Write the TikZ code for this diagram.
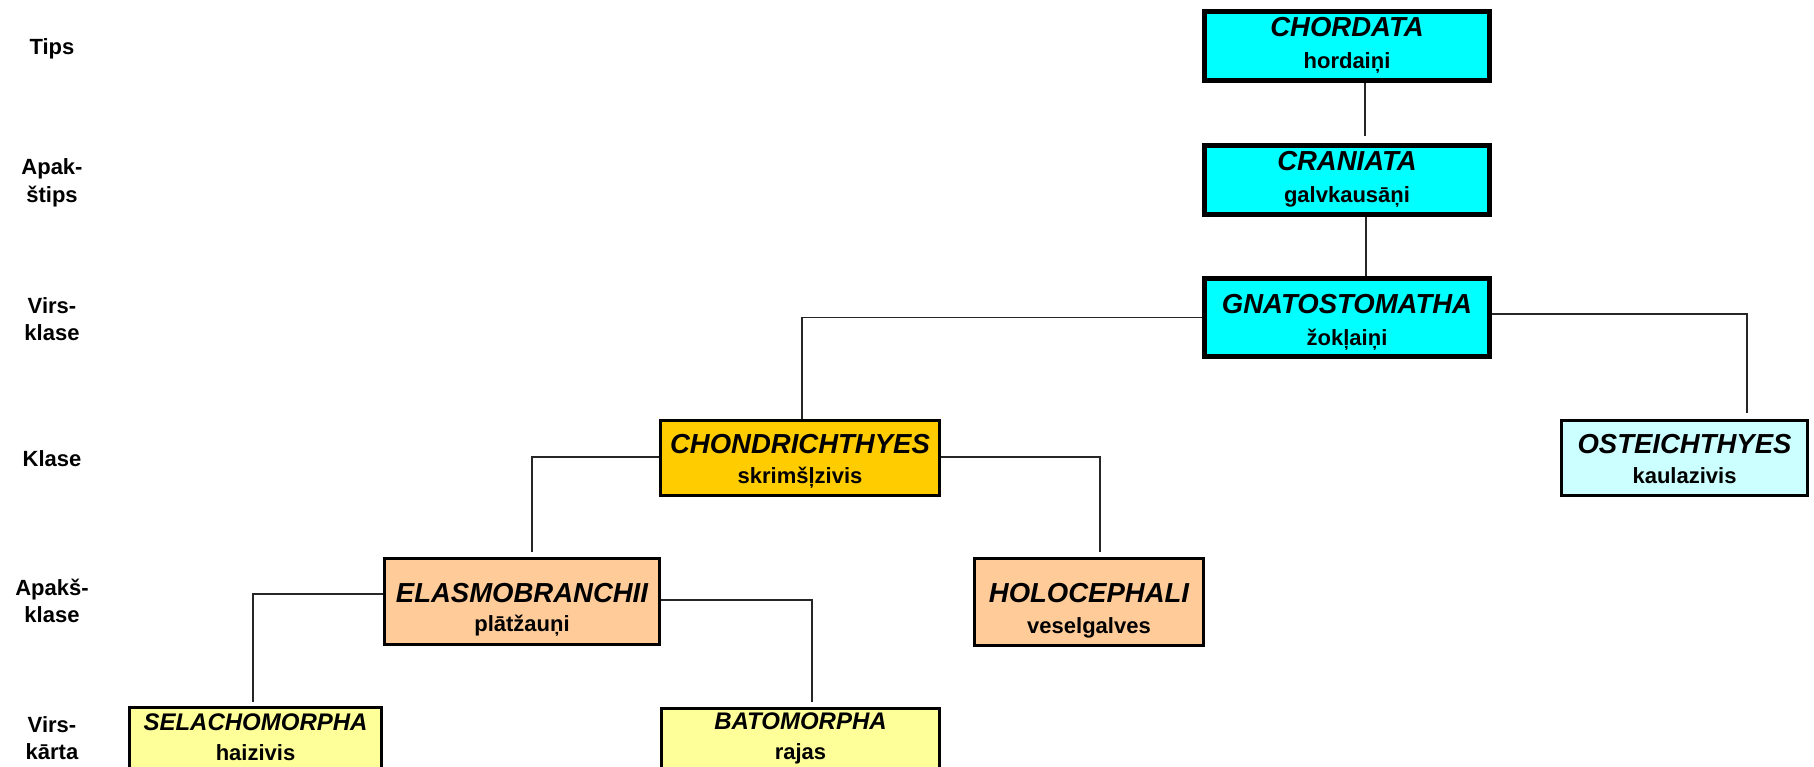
\documentclass[tikz,border=0pt]{standalone}
\usepackage{fontspec}
\setmainfont{Liberation Sans}
\definecolor{boxcyan}{HTML}{00FFFF}
\definecolor{boxorange}{HTML}{FFCC00}
\definecolor{boxlightcyan}{HTML}{CCFFFF}
\definecolor{boxpeach}{HTML}{FFCC99}
\definecolor{boxyellow}{HTML}{FFFF99}
\newcommand{\titf}{\fontsize{27.5}{30}\selectfont\bfseries\itshape}
\newcommand{\btitf}{\fontsize{24}{28}\selectfont\bfseries\itshape}
\newcommand{\subf}{\fontsize{22}{26}\selectfont\bfseries}
\newcommand{\labf}{\fontsize{22}{27.5}\selectfont\bfseries}
\newcommand{\boxtext}[4][\titf]{\vtop{\baselineskip=#4pt\relax\halign{\hfil##\hfil\cr{#1#2}\cr{\subf#3}\cr}}}
\newcommand{\twol}[2]{\vtop{\baselineskip=27.5pt\relax\halign{\hfil##\hfil\cr#1\cr#2\cr}}}
\tikzset{
  thickbox/.style={draw=black, line width=5pt, inner sep=0pt, minimum width=285pt},
  thinbox/.style={draw=black, line width=3pt, inner sep=0pt},
  link/.style={draw=black!85, line width=1.8pt},
  rank/.style={anchor=base, inner sep=0pt, font=\labf},
}
\begin{document}
\begin{tikzpicture}[x=1pt,y=-1pt]
\useasboundingbox (0,0) rectangle (1814,767);
\fill[white] (0,0) rectangle (1814,767);
\clip (0,0) rectangle (1814,767);

% rank labels
\node[rank] (l1) at (52,55) {Tips};
\node[rank] (l2) at (52,175) {\twol{Apak-}{štips}};
\node[rank] (l3) at (52,313) {\twol{Virs-}{klase}};
\node[rank] (l4) at (52,466) {Klase};
\node[rank] (l5) at (52,595) {\twol{Apakš-}{klase}};
\node[rank] (l6) at (52,732) {\twol{Virs-}{kārta}};

% boxes
\node[thickbox, fill=boxcyan, minimum height=69pt, text height=0pt, text depth=18pt] (chordata) at (1347,46) {\boxtext{CHORDATA}{hordaiņi}{32}};
\node[thickbox, fill=boxcyan, minimum height=69pt, text height=0pt, text depth=18pt] (craniata) at (1347,180) {\boxtext{CRANIATA}{galvkausāņi}{32}};
\node[thickbox, fill=boxcyan, minimum height=78pt, text height=0pt, text depth=9pt] (gnat) at (1347,317.5) {\boxtext{GNATOSTOMATHA}{žokļaiņi}{32}};
\node[thinbox, fill=boxorange, minimum width=279pt, minimum height=75pt, text height=0pt, text depth=10pt] (chondr) at (800,458) {\boxtext{CHONDRICHTHYES}{skrimšļzivis}{30}};
\node[thinbox, fill=boxlightcyan, minimum width=246pt, minimum height=75pt, text height=0pt, text depth=10pt] (ostei) at (1684.5,458) {\boxtext{OSTEICHTHYES}{kaulazivis}{30}};
\node[thinbox, fill=boxpeach, minimum width=275pt, minimum height=86pt, text height=1pt, text depth=0pt] (elasmo) at (522,601.5) {\boxtext{ELASMOBRANCHII}{plātžauņi}{29}};
\node[thinbox, fill=boxpeach, minimum width=229pt, minimum height=87pt, text height=0pt, text depth=0pt] (holo) at (1089,602) {\boxtext{HOLOCEPHALI}{veselgalves}{31}};
\node[thinbox, fill=boxyellow, minimum width=252pt, minimum height=100pt, text height=0pt, text depth=55pt] (selacho) at (255.5,757.5) {\boxtext[\btitf]{SELACHOMORPHA}{haizivis}{30}};
\node[thinbox, fill=boxyellow, minimum width=278pt, minimum height=100pt, text height=0pt, text depth=59pt] (bato) at (800.5,758.5) {\boxtext[\btitf]{BATOMORPHA}{rajas}{30}};

% connectors
\draw[link] ([xshift=18pt]chordata.south) -- ([xshift=18pt,yshift=7pt]craniata.north);
\draw[link] ([xshift=19pt]craniata.south) -- ([xshift=19pt]gnat.north);
\draw[link] (gnat.west) -| ([xshift=2pt]chondr.north);
\draw[link] ([yshift=3.5pt]gnat.east) -| ([xshift=62.5pt,yshift=6pt]ostei.north);
\draw[link] ([yshift=1pt]chondr.west) -| ([xshift=10pt,yshift=5pt]elasmo.north);
\draw[link] ([yshift=1pt]chondr.east) -| ([xshift=11pt,yshift=5pt]holo.north);
\draw[link] ([yshift=7.5pt]elasmo.west) -| ([xshift=-2.5pt,yshift=4pt]selacho.north);
\draw[link] ([yshift=1.5pt]elasmo.east) -| ([xshift=11.5pt,yshift=5pt]bato.north);
\end{tikzpicture}
\end{document}
